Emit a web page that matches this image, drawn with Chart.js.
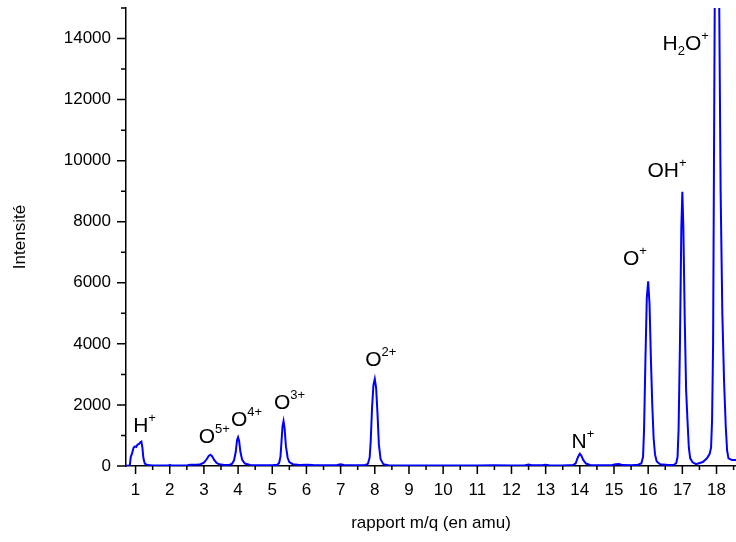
<!DOCTYPE html>
<html>
<head>
<meta charset="utf-8">
<script src="https://cdn.jsdelivr.net/npm/chart.js@4"></script>
<style>
  html, body { margin: 0; padding: 0; background: #fff; }
  #wrap { width: 736px; height: 542px; }
</style>
</head>
<body>
<div id="wrap"><canvas id="spectre"></canvas></div>
<script>
// spectre de masse : rapport m/q (amu) et intensité
const massValues = [
  0.72, 0.83, 0.86, 0.9, 0.94, 0.98, 1.02, 1.06, 1.1, 1.14, 1.17, 1.2, 1.23, 1.27, 1.35, 1.5, 1.7, 1.95, 2.0, 2.05,
  2.3, 2.5, 2.6, 2.7, 2.8, 2.9, 3.0, 3.08, 3.14, 3.19, 3.24, 3.3, 3.37, 3.45, 3.6, 3.75, 3.82, 3.88, 3.93, 3.97,
  4.0, 4.03, 4.07, 4.12, 4.2, 4.35, 4.6, 5.0, 5.15, 5.2, 5.24, 5.27, 5.3, 5.33, 5.36, 5.4, 5.45, 5.5, 5.6, 5.8,
  6.0, 6.2, 6.5, 6.9, 7.0, 7.1, 7.4, 7.7, 7.8, 7.85, 7.88, 7.92, 7.96, 8.0, 8.04, 8.08, 8.12, 8.17, 8.25, 8.4,
  9.0, 10.0, 11.0, 11.5, 12.0, 12.4, 12.5, 12.6, 12.9, 13.0, 13.1, 13.5, 13.8, 13.88, 13.94, 14.0, 14.04, 14.1, 14.18, 14.3,
  14.6, 14.95, 15.05, 15.15, 15.25, 15.5, 15.7, 15.8, 15.85, 15.88, 15.92, 15.96, 16.0, 16.04, 16.08, 16.12, 16.16, 16.2, 16.25, 16.35,
  16.6, 16.75, 16.82, 16.86, 16.89, 16.93, 16.97, 17.0, 17.03, 17.07, 17.11, 17.15, 17.19, 17.23, 17.3, 17.4, 17.6, 17.72, 17.8, 17.84,
  17.87, 17.9, 17.93, 17.96, 18.0, 18.05, 18.08, 18.12, 18.17, 18.22, 18.27, 18.31, 18.35, 18.45, 18.6
];
const intensityValues = [
  5, 10, 300, 420, 600, 640, 620, 700, 720, 780, 800, 600, 250, 80, 30, 20, 15, 15, 40, 15,
  15, 20, 40, 45, 40, 60, 110, 220, 330, 370, 320, 200, 100, 55, 30, 40, 70, 180, 450, 850,
  940, 820, 450, 200, 80, 35, 25, 25, 40, 100, 300, 800, 1300, 1470, 1250, 650, 270, 130, 60, 35,
  40, 30, 25, 35, 55, 35, 25, 25, 70, 280, 800, 1900, 2650, 2850, 2550, 1700, 700, 220, 60, 25,
  20, 20, 20, 25, 20, 25, 45, 25, 25, 40, 25, 20, 30, 90, 280, 400, 350, 200, 80, 35,
  25, 30, 60, 65, 30, 25, 40, 80, 300, 1200, 3500, 5500, 6050, 5300, 3500, 2000, 900, 380, 150, 60,
  30, 40, 90, 300, 1200, 4000, 7800, 8980, 7800, 4800, 2500, 1500, 600, 250, 120, 60, 130, 250, 400, 600,
  1500, 4000, 11000, 18000, 22000, 18000, 15000, 9000, 5000, 2800, 1300, 500, 250, 200, 200
];

const xMajorTicks = [1, 2, 3, 4, 5, 6, 7, 8, 9, 10, 11, 12, 13, 14, 15, 16, 17, 18];
const xMinorTicks = [1.5, 2.5, 3.5, 4.5, 5.5, 6.5, 7.5, 8.5, 9.5, 10.5, 11.5, 12.5, 13.5, 14.5, 15.5, 16.5, 17.5, 18.5];
const yMajorTicks = [0, 2000, 4000, 6000, 8000, 10000, 12000, 14000];
const yMinorTicks = [1000, 3000, 5000, 7000, 9000, 11000, 13000, 15000];

// étiquettes des ions : morceaux [texte, 'sup' | 'sub' | ''] et position (gauche, ligne de base)
const ionParts = [
  [['H', ''], ['+', 'sup']],
  [['O', ''], ['5+', 'sup']],
  [['O', ''], ['4+', 'sup']],
  [['O', ''], ['3+', 'sup']],
  [['O', ''], ['2+', 'sup']],
  [['N', ''], ['+', 'sup']],
  [['O', ''], ['+', 'sup']],
  [['OH', ''], ['+', 'sup']],
  [['H', ''], ['2', 'sub'], ['O', ''], ['+', 'sup']]
];
const ionX = [0.93, 2.85, 3.79, 5.05, 7.72, 13.76, 15.26, 15.98, 16.42];
const ionY = [1115, 744, 1311, 1860, 3280, 580, 6570, 9450, 13640];

const font = 'Arial, "Liberation Sans", sans-serif';
Chart.defaults.font.family = font;
Chart.defaults.color = '#000';

const axisTicks = {
  id: 'axisTicks',
  afterDraw(chart) {
    const { ctx, chartArea, scales: { x, y } } = chart;
    ctx.save();
    ctx.strokeStyle = '#000';
    ctx.lineWidth = 1.5;
    ctx.beginPath();
    xMajorTicks.forEach(v => { const p = x.getPixelForValue(v); ctx.moveTo(p, chartArea.bottom); ctx.lineTo(p, chartArea.bottom + 8); });
    xMinorTicks.forEach(v => { const p = x.getPixelForValue(v); ctx.moveTo(p, chartArea.bottom); ctx.lineTo(p, chartArea.bottom + 4); });
    yMajorTicks.forEach(v => { const p = y.getPixelForValue(v); ctx.moveTo(chartArea.left, p); ctx.lineTo(chartArea.left - 9, p); });
    yMinorTicks.forEach(v => { const p = y.getPixelForValue(v); ctx.moveTo(chartArea.left, p); ctx.lineTo(chartArea.left - 5, p); });
    ctx.stroke();
    ctx.restore();
  }
};

const ionLabels = {
  id: 'ionLabels',
  afterDraw(chart) {
    const { ctx, scales: { x, y } } = chart;
    ctx.save();
    ctx.fillStyle = '#000';
    ctx.textBaseline = 'alphabetic';
    ctx.textAlign = 'left';
    ionParts.forEach((parts, i) => {
      let px = x.getPixelForValue(ionX[i]);
      const py = y.getPixelForValue(ionY[i]);
      parts.forEach(([txt, kind]) => {
        if (kind === 'sup') {
          ctx.font = '13px ' + font;
          ctx.fillText(txt, px, py - 10);
        } else if (kind === 'sub') {
          ctx.font = '13px ' + font;
          ctx.fillText(txt, px, py + 5);
        } else {
          ctx.font = '21px ' + font;
          ctx.fillText(txt, px, py);
        }
        px += ctx.measureText(txt).width;
      });
    });
    ctx.restore();
  }
};

new Chart(document.getElementById('spectre'), {
  type: 'line',
  data: {
    labels: massValues,
    datasets: [{
      data: massValues.map((m, i) => ({ x: m, y: intensityValues[i] })),
      borderColor: '#0000ff',
      borderWidth: 2,
      pointRadius: 0,
      tension: 0,
      fill: false
    }]
  },
  options: {
    responsive: true,
    maintainAspectRatio: false,
    animation: false,
    layout: { padding: { top: 8, right: 0, left: 0, bottom: 0 } },
    plugins: { legend: { display: false }, tooltip: { enabled: false } },
    scales: {
      x: {
        type: 'linear',
        min: 0.72,
        max: 18.57,
        afterBuildTicks: s => { s.ticks = xMajorTicks.map(v => ({ value: v })); },
        afterFit: s => { s.height = 76; s.paddingLeft = 0; s.paddingRight = 0; },
        grid: { display: false, drawTicks: false },
        border: { display: true, color: '#000', width: 1.5 },
        ticks: { font: { size: 17 }, padding: 14, maxRotation: 0, autoSkip: false, callback: v => String(v) },
        title: { display: true, text: 'rapport m/q (en amu)', font: { size: 17 }, padding: { top: 0, bottom: 8 } }
      },
      y: {
        min: 0,
        max: 15000,
        afterBuildTicks: s => { s.ticks = yMajorTicks.map(v => ({ value: v })); },
        afterFit: s => { s.width = 126; s.paddingTop = 0; s.paddingBottom = 0; },
        grid: { display: false, drawTicks: false },
        border: { display: true, color: '#000', width: 1.5 },
        ticks: { font: { size: 17 }, padding: 15, callback: v => String(v) },
        title: { display: true, text: 'Intensité', font: { size: 17 }, padding: { top: 10, bottom: 0 } }
      }
    }
  },
  plugins: [axisTicks, ionLabels]
});
</script>
</body>
</html>
